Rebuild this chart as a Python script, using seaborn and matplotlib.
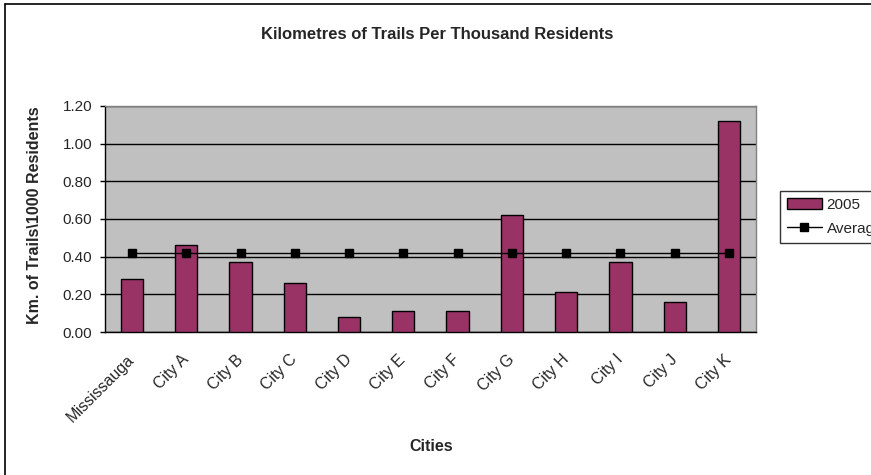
import pandas as pd
import seaborn as sns
import matplotlib.pyplot as plt
from matplotlib.lines import Line2D
from matplotlib.patches import Patch

cities = ['Mississauga', 'City A', 'City B', 'City C', 'City D', 'City E',
          'City F', 'City G', 'City H', 'City I', 'City J', 'City K']
trails_2005 = [0.28, 0.46, 0.37, 0.26, 0.08, 0.11, 0.11, 0.62, 0.21, 0.37,
               0.16, 1.12]
average = [0.42] * len(cities)
y_ticks = [0.0, 0.2, 0.4, 0.6, 0.8, 1.0, 1.2]


def main():
    sns.set_style('white')
    plt.rcParams['font.family'] = ['Liberation Sans', 'DejaVu Sans']
    df = pd.DataFrame({'city': cities, 'km': trails_2005, 'avg': average})

    fig, ax = plt.subplots(figsize=(8.71, 4.75), dpi=100)
    fig.subplots_adjust(left=0.1205, right=0.868, top=0.777, bottom=0.301)
    ax.set_facecolor('#C0C0C0')

    sns.barplot(data=df, x='city', y='km', color='#993366', width=0.41,
                edgecolor='black', linewidth=1.0, saturation=1, ax=ax,
                zorder=3)
    ax.plot(df['city'], df['avg'], color='black', linewidth=1.0,
            marker='s', markersize=6, zorder=4)

    ax.set_xlim(-0.5, len(cities) - 0.5)
    ax.set_ylim(0, 1.2)
    ax.set_yticks(y_ticks)
    ax.set_yticklabels(['%.2f' % t for t in y_ticks], fontsize=11)
    ax.yaxis.grid(True, color='black', linewidth=1.0)
    ax.set_axisbelow(True)

    ax.set_xticks(range(len(cities)))
    ax.set_xticklabels(cities, rotation=45, ha='right', va='center',
                       rotation_mode='anchor', fontsize=11.5)
    ax.set_xticks([i + 0.5 for i in range(-1, len(cities))], minor=True)
    ax.tick_params(axis='x', which='major', length=0, pad=18)
    ax.tick_params(axis='x', which='minor', length=7, direction='inout',
                   color='black', width=1)
    ax.tick_params(axis='y', which='major', length=3.6, direction='out',
                   left=True, color='black', width=1, pad=5.5)
    ax.set_xlabel('')
    ax.set_ylabel('')

    for side in ['left', 'bottom']:
        ax.spines[side].set_color('black')
        ax.spines[side].set_linewidth(1.0)
    for side in ['top', 'right']:
        ax.spines[side].set_color('#808080')
        ax.spines[side].set_linewidth(1.0)

    fig.text(0.502, 0.928, 'Kilometres of Trails Per Thousand Residents',
             ha='center', va='center', fontsize=12, fontweight='bold')
    fig.text(0.040, 0.547, 'Km. of Trails\\1000 Residents', rotation=90,
             ha='center', va='center', fontsize=11.5, fontweight='bold')
    fig.text(0.495, 0.061, 'Cities', ha='center', va='center',
             fontsize=11.5, fontweight='bold')

    handles = [Patch(facecolor='#993366', edgecolor='black'),
               Line2D([], [], color='black', marker='s', markersize=6,
                      linewidth=1.0)]
    leg = fig.legend(handles, ['2005', 'Average'], loc='upper left',
                     bbox_to_anchor=(780 / 871, 1 - 191 / 475),
                     frameon=True, fancybox=False, fontsize=11,
                     borderpad=0.45, handlelength=2.3, handletextpad=0.3,
                     labelspacing=0.65, borderaxespad=0)
    leg.get_frame().set_edgecolor('black')
    leg.get_frame().set_linewidth(1.0)

    # chart-area border (only top and left edges fall inside the image)
    fig.add_artist(Line2D([5 / 871, 5 / 871], [0, 1 - 4 / 475],
                          color='black', linewidth=1.2))
    fig.add_artist(Line2D([5 / 871, 1], [1 - 4 / 475, 1 - 4 / 475],
                          color='black', linewidth=1.2))

    plt.savefig('out.png', dpi=100)


if __name__ == '__main__':
    main()
